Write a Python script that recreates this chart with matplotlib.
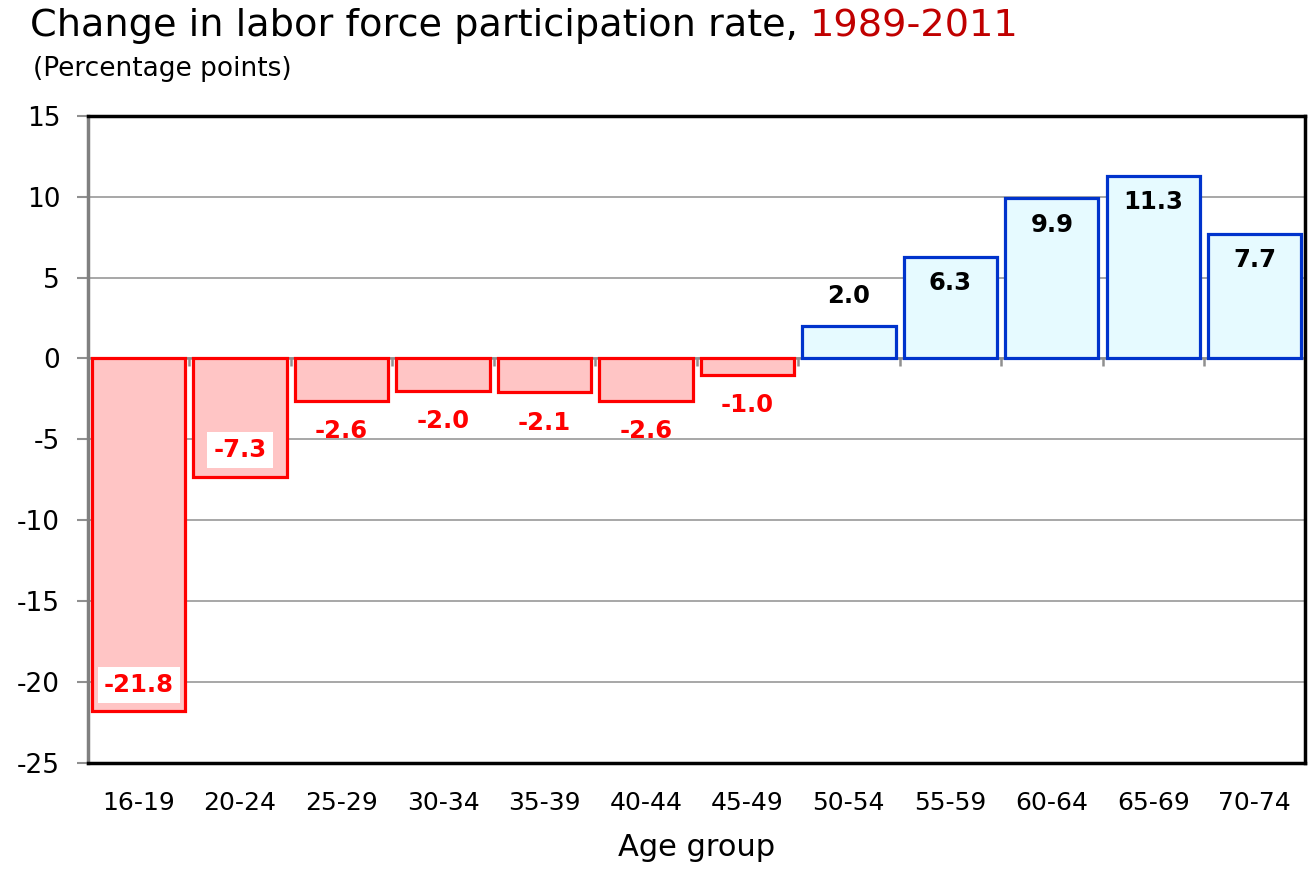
import numpy as np
import matplotlib
matplotlib.use("Agg")
from matplotlib import pyplot as plt

# datos
grupos = ["16-19", "20-24", "25-29", "30-34", "35-39", "40-44",
          "45-49", "50-54", "55-59", "60-64", "65-69", "70-74"]
cambios = [-21.8, -7.3, -2.6, -2.0, -2.1, -2.6, -1.0, 2.0, 6.3, 9.9, 11.3, 7.7]
# etiquetas dentro de la barra (True) o fuera (False)
dentro = [True, True, False, False, False, False, False, False, True, True, True, True]

plt.rcParams['font.family'] = ['DejaVu Sans']
plt.rcParams['axes.unicode_minus'] = False

fig = plt.figure(figsize=(13.12, 8.77), dpi=100)
ax = fig.add_axes([0.067, 0.130, 0.928, 0.738])

x = np.arange(len(grupos))
caras = ["#FFC5C5" if v < 0 else "#E6FAFF" for v in cambios]
bordes = ["#FF0000" if v < 0 else "#0033CC" for v in cambios]
ax.bar(x, cambios, width=0.92, color=caras, edgecolor=bordes, linewidth=2.3, zorder=3)

ax.set_xlim(-0.5, len(grupos) - 0.5)
ax.set_ylim(-25, 15)
ax.set_yticks(range(-25, 16, 5))
ax.yaxis.grid(True, color="#A0A0A0", linewidth=1.3, zorder=0)

# linea del cero con marcas entre categorias
ax.axhline(0, color="#909090", linewidth=1.8, zorder=2)
ax.vlines(x[:-1] + 0.5, -0.45, 0, color="#909090", linewidth=1.8, zorder=2)

for s in ["top", "right", "bottom"]:
    ax.spines[s].set_color("black")
    ax.spines[s].set_linewidth(2.5)
ax.spines["left"].set_color("#808080")
ax.spines["left"].set_linewidth(2.5)

ax.tick_params(axis="y", direction="out", length=8, width=1.5, color="#909090",
               labelsize=19, pad=12)
ax.tick_params(axis="x", length=0, labelsize=18, pad=20)
ax.set_xticks(x)
ax.set_xticklabels(grupos)
ax.set_xlabel("Age group", fontsize=22, labelpad=13)

for i, v in enumerate(cambios):
    color = "#FF0000" if v < 0 else "black"
    signo = 1 if v < 0 else -1
    if not dentro[i]:
        signo = -signo
    off = 19 if dentro[i] else 22
    caja = None
    if dentro[i] and v < 0:
        caja = dict(boxstyle="square,pad=0.25", facecolor="white", edgecolor="none")
    ax.annotate(f"{v:.1f}", (i, v), xytext=(0, signo * off), textcoords="offset points",
                ha="center", va="center", fontsize=17.5, fontweight="bold",
                color=color, bbox=caja, zorder=5)

# titulo con dos colores
t1 = fig.text(0.023, 0.97, "Change in labor force participation rate, ",
              fontsize=27.5, va="center", ha="left")
fig.canvas.draw()
bb = t1.get_window_extent()
fig.text(bb.x1 / fig.bbox.width, 0.97, "1989-2011", fontsize=27.5, va="center",
         ha="left", color="#C00000")
fig.text(0.025, 0.921, "(Percentage points)", fontsize=19, va="center", ha="left")

fig.savefig("out.png", dpi=100)
